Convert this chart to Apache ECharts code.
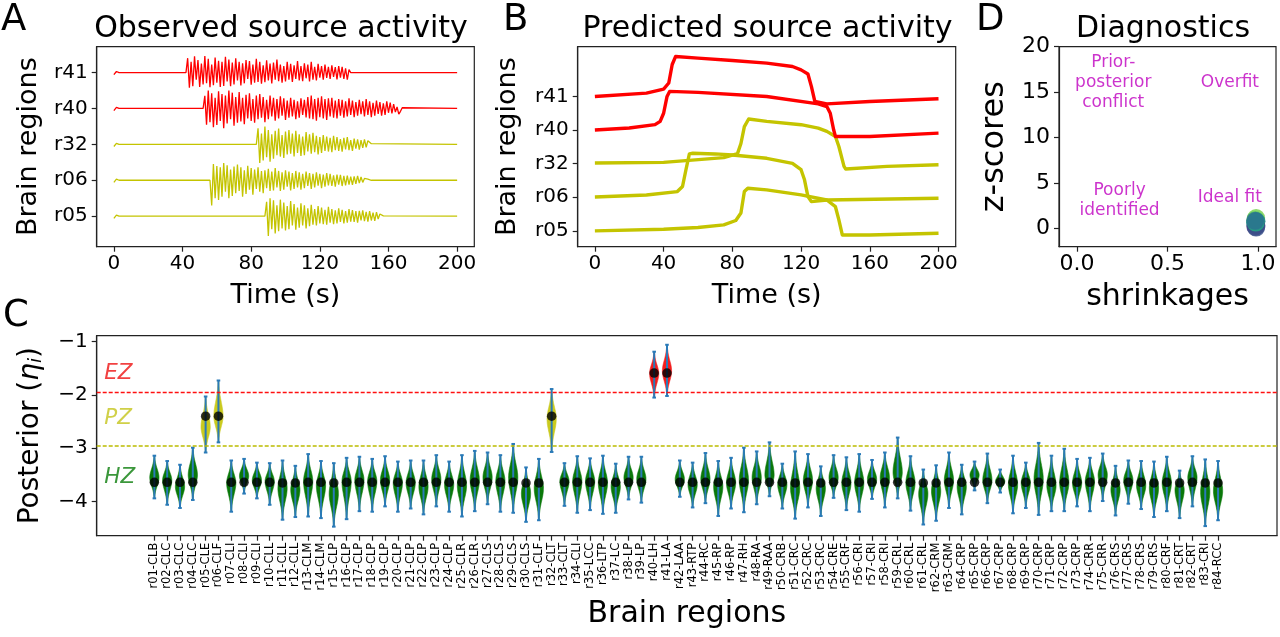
<!DOCTYPE html>
<html><head><meta charset="utf-8">
<script src="https://cdn.jsdelivr.net/npm/echarts@6/dist/echarts.min.js"></script>
<style>html,body{margin:0;padding:0;background:#fff}#c{width:1280px;height:637px}</style>
</head><body><div id="c"></div>
<script>
// ---------------- DATA ----------------
// Panels A & B: traces stacked by offset 1..5
const traceNames = ['r05', 'r06', 'r32', 'r40', 'r41'];
const traceZone = ['PZ', 'PZ', 'PZ', 'EZ', 'EZ'];
const timeTicks = [0, 40, 80, 120, 160, 200];
const onsetT = [0, 1.5, 3];
const onsetV = [-0.06, 0.03, 0];
// observed bursts (deviation from baseline, 1 s steps)
const burstStart = [89, 57, 84, 53, 43];
const obs_r05 = [0.40,-0.55,0.50,-0.36,0.44,-0.48,0.30,-0.42,0.46,-0.34,0.38,-0.40,0.28,-0.36,0.42,-0.26,0.34,-0.38,0.24,-0.32,0.36,-0.26,0.30,-0.34,0.22,-0.28,0.32,-0.24,0.20,-0.26,0.28,-0.20,0.24,-0.22,0.18,-0.24,0.26,-0.18,0.20,-0.22,0.16,-0.20,0.22,-0.16,0.18,-0.20,0.14,-0.18,0.20,-0.15,0.17,-0.16,0.14,-0.18,0.15,-0.12,0.16,-0.14,0.12,-0.15,0.14,-0.12,0.10,-0.13,0.11,-0.08,0.06,0.03,0.01];
const obs_r06 = [-0.70,0.45,-0.50,0.40,-0.55,0.36,-0.46,0.48,-0.32,0.42,-0.50,0.30,-0.44,0.38,-0.36,0.44,-0.30,0.36,-0.46,0.28,-0.38,0.40,-0.26,0.34,-0.40,0.30,-0.24,0.36,-0.32,0.26,-0.36,0.28,-0.22,0.32,-0.30,0.24,-0.28,0.34,-0.20,0.26,-0.30,0.22,-0.26,0.28,-0.18,0.24,-0.28,0.20,-0.24,0.26,-0.20,0.22,-0.26,0.18,-0.22,0.24,-0.16,0.20,-0.24,0.18,-0.20,0.22,-0.15,0.18,-0.22,0.16,-0.18,0.20,-0.14,0.18,-0.16,0.14,-0.18,0.16,-0.12,0.15,-0.16,0.12,-0.14,0.13,-0.12,0.10,-0.13,0.11,-0.10,0.12,-0.08,0.09,-0.06,0.05,0.04,0.03,0.01];
const obs_r32 = [0.45,-0.52,0.30,-0.45,0.50,-0.36,0.40,-0.48,0.28,-0.40,0.38,-0.30,0.44,-0.34,0.26,-0.38,0.36,-0.28,0.40,-0.26,0.30,-0.34,0.38,-0.24,0.28,-0.32,0.22,-0.30,0.34,-0.20,0.28,-0.26,0.32,-0.22,0.24,-0.28,0.20,-0.24,0.26,-0.18,0.22,-0.20,0.18,-0.22,0.24,-0.16,0.20,-0.18,0.15,-0.20,0.18,-0.14,0.20,-0.16,0.12,-0.18,0.16,-0.12,0.14,-0.15,0.12,-0.10,0.14,-0.08,0.10,0.06,0.02];
const obs_r40 = [0.35,-0.45,0.50,-0.38,0.42,-0.52,0.30,-0.46,0.48,-0.35,0.40,-0.55,0.36,-0.42,0.50,-0.30,0.44,-0.48,0.32,-0.40,0.46,-0.36,0.30,-0.44,0.38,-0.28,0.42,-0.35,0.26,-0.40,0.36,-0.30,0.40,-0.26,0.32,-0.38,0.24,-0.30,0.36,-0.22,0.30,-0.34,0.26,-0.28,0.34,-0.20,0.28,-0.32,0.22,-0.26,0.30,-0.22,0.24,-0.30,0.20,-0.26,0.28,-0.18,0.24,-0.25,0.32,-0.28,0.36,-0.30,0.26,-0.34,0.30,-0.24,0.34,-0.28,0.26,-0.32,0.28,-0.22,0.30,-0.26,0.22,-0.28,0.26,-0.20,0.24,-0.26,0.20,-0.22,0.28,-0.18,0.22,-0.24,0.18,-0.20,0.24,-0.16,0.20,-0.22,0.26,-0.18,0.20,-0.24,0.16,-0.20,0.22,-0.15,0.18,-0.20,0.14,-0.18,0.20,-0.12,0.16,-0.14,0.12,-0.10,0.04,-0.16,-0.08,0.02];
const obs_r41 = [0.40,-0.42,0.30,-0.38,0.45,-0.20,0.35,-0.40,0.25,-0.33,0.46,-0.30,0.38,-0.41,0.22,-0.35,0.42,-0.28,0.33,-0.40,0.30,-0.37,0.44,-0.25,0.36,-0.38,0.28,-0.33,0.40,-0.22,0.30,-0.36,0.26,-0.30,0.35,-0.18,0.32,-0.34,0.22,-0.28,0.38,-0.26,0.30,-0.31,0.20,-0.27,0.34,-0.22,0.25,-0.30,0.28,-0.20,0.36,-0.24,0.22,-0.28,0.18,-0.25,0.30,-0.20,0.24,-0.26,0.20,-0.18,0.32,-0.22,0.18,-0.24,0.26,-0.16,0.22,-0.25,0.30,-0.20,0.16,-0.22,0.24,-0.14,0.18,-0.20,0.22,-0.15,0.16,-0.18,0.20,-0.12,0.15,-0.19,0.18,-0.14,0.16,-0.18,0.12,-0.20,0.08];
const observed = [obs_r05, obs_r06, obs_r32, obs_r40, obs_r41];
// predicted activity: key points (time, value on stacked axis)
const predT_r05 = [0,40,60,75,82,85,87,89,100,120,135,140,142,144,160,200];
const predV_r05 = [1.0,1.05,1.10,1.18,1.31,1.53,2.17,2.27,2.22,2.07,1.92,1.72,1.33,0.88,0.88,0.93];
const predT_r06 = [0,30,48,51,53,55,57,70,80,100,115,120,122,124,126,135,200];
const predV_r06 = [2.01,2.07,2.17,2.32,2.82,3.29,3.31,3.29,3.26,3.16,3.01,2.82,2.52,2.02,1.87,1.92,1.97];
const predT_r32 = [0,40,75,83,85,87,89.5,100,120,130,135,140,142,145,146,170,200];
const predV_r32 = [3.02,3.04,3.18,3.30,3.60,4.10,4.33,4.26,4.16,4.06,3.96,3.81,3.51,2.92,2.84,2.92,2.97];
const predT_r40 = [0,20,35,38,40,42,43.5,60,100,130,135,137,139,140,160,200];
const predV_r40 = [4.0,4.06,4.16,4.26,4.50,5.0,5.15,5.12,5.0,4.78,4.70,4.50,4.0,3.81,3.81,3.91];
const predT_r41 = [0,30,40,43,45,47,60,80,100,115,120,124,126,128,135,160,200];
const predV_r41 = [5.0,5.10,5.22,5.40,5.95,6.19,6.14,6.07,5.99,5.89,5.79,5.67,5.30,4.85,4.78,4.85,4.93];
const predT = [predT_r05, predT_r06, predT_r32, predT_r40, predT_r41];
const predV = [predV_r05, predV_r06, predV_r32, predV_r40, predV_r41];

// Panel C: posterior violins
const regions = ['r01-CLB','r02-CLC','r03-CLC','r04-CLC','r05-CLE','r06-CLF','r07-CLI','r08-CLI','r09-CLI','r10-CLL','r11-CLL','r12-CLL','r13-CLM','r14-CLM','r15-CLP','r16-CLP','r17-CLP','r18-CLP','r19-CLP','r20-CLP','r21-CLP','r22-CLP','r23-CLP','r24-CLP','r25-CLR','r26-CLR','r27-CLS','r28-CLS','r29-CLS','r30-CLS','r31-CLF','r32-CLT','r33-CLT','r34-CLI','r35-LCC','r36-LTP','r37-LC','r38-LP','r39-LP','r40-LH','r41-LA','r42-LAA','r43-RTP','r44-RC','r45-RP','r46-RP','r47-RH','r48-RA','r49-RAA','r50-CRB','r51-CRC','r52-CRC','r53-CRC','r54-CRE','r55-CRF','r56-CRI','r57-CRI','r58-CRI','r59-CRL','r60-CRL','r61-CRL','r62-CRM','r63-CRM','r64-CRP','r65-CRP','r66-CRP','r67-CRP','r68-CRP','r69-CRP','r70-CRP','r71-CRP','r72-CRP','r73-CRP','r74-CRR','r75-CRR','r76-CRS','r77-CRS','r78-CRS','r79-CRS','r80-CRF','r81-CRT','r82-CRT','r83-CRI','r84-RCC'];
const zone = ['HZ','HZ','HZ','HZ','PZ','PZ','HZ','HZ','HZ','HZ','HZ','HZ','HZ','HZ','HZ','HZ','HZ','HZ','HZ','HZ','HZ','HZ','HZ','HZ','HZ','HZ','HZ','HZ','HZ','HZ','HZ','PZ','HZ','HZ','HZ','HZ','HZ','HZ','HZ','EZ','EZ','HZ','HZ','HZ','HZ','HZ','HZ','HZ','HZ','HZ','HZ','HZ','HZ','HZ','HZ','HZ','HZ','HZ','HZ','HZ','HZ','HZ','HZ','HZ','HZ','HZ','HZ','HZ','HZ','HZ','HZ','HZ','HZ','HZ','HZ','HZ','HZ','HZ','HZ','HZ','HZ','HZ','HZ','HZ'];
const postMax = [-3.14,-3.24,-3.31,-2.99,-2.03,-1.73,-3.23,-3.20,-3.27,-3.28,-3.23,-3.33,-3.11,-3.24,-3.28,-3.18,-3.16,-3.20,-3.15,-3.25,-3.23,-3.23,-3.13,-3.25,-3.13,-3.05,-3.08,-3.13,-2.92,-3.36,-3.20,-1.89,-3.28,-3.15,-3.19,-3.14,-3.29,-3.16,-3.16,-1.19,-1.06,-3.23,-3.27,-3.09,-3.24,-3.18,-2.99,-3.06,-2.89,-3.29,-3.06,-3.11,-3.34,-3.13,-3.17,-3.11,-3.22,-3.08,-2.80,-3.15,-3.40,-3.32,-3.08,-3.31,-3.25,-3.10,-3.40,-3.14,-3.27,-2.90,-3.14,-3.01,-3.20,-3.18,-3.10,-3.33,-3.23,-3.24,-3.25,-3.16,-3.42,-3.15,-3.21,-3.24];
const postMin = [-3.94,-4.06,-4.12,-3.97,-3.08,-2.89,-4.19,-3.85,-3.94,-4.06,-4.34,-4.29,-4.28,-4.31,-4.47,-4.33,-4.18,-4.19,-4.09,-4.19,-4.13,-4.24,-4.09,-4.19,-4.28,-4.18,-4.05,-4.19,-4.21,-4.38,-4.35,-3.07,-4.08,-4.21,-4.16,-4.23,-4.21,-3.96,-4.02,-2.05,-2.02,-3.91,-4.11,-4.03,-4.27,-4.13,-4.20,-4.05,-3.90,-4.13,-4.32,-4.11,-4.27,-3.93,-4.16,-4.19,-3.95,-4.11,-3.94,-4.17,-4.43,-4.36,-4.12,-4.24,-3.79,-4.03,-3.83,-4.22,-4.12,-4.25,-4.18,-4.18,-4.09,-4.18,-3.99,-4.26,-4.04,-4.14,-4.29,-4.18,-4.31,-4.09,-4.46,-4.35];
const postMode = [-3.55,-3.60,-3.72,-3.50,-2.60,-2.40,-3.65,-3.52,-3.60,-3.62,-3.75,-3.78,-3.62,-3.70,-3.85,-3.62,-3.60,-3.62,-3.60,-3.65,-3.65,-3.72,-3.58,-3.68,-3.70,-3.60,-3.55,-3.62,-3.55,-3.85,-3.75,-2.45,-3.62,-3.62,-3.62,-3.65,-3.72,-3.55,-3.58,-1.60,-1.55,-3.58,-3.68,-3.58,-3.72,-3.65,-3.60,-3.55,-3.50,-3.68,-3.75,-3.60,-3.75,-3.55,-3.65,-3.65,-3.58,-3.55,-3.45,-3.65,-3.85,-3.80,-3.60,-3.72,-3.50,-3.60,-3.62,-3.68,-3.65,-3.58,-3.70,-3.65,-3.65,-3.62,-3.50,-3.78,-3.60,-3.70,-3.75,-3.65,-3.78,-3.55,-3.82,-3.80];
const trueEta = [-3.64,-3.64,-3.64,-3.64,-2.40,-2.40,-3.64,-3.64,-3.64,-3.64,-3.65,-3.65,-3.64,-3.64,-3.65,-3.64,-3.64,-3.64,-3.64,-3.64,-3.64,-3.64,-3.64,-3.64,-3.64,-3.64,-3.64,-3.64,-3.64,-3.65,-3.65,-2.40,-3.64,-3.64,-3.64,-3.64,-3.64,-3.64,-3.64,-1.59,-1.59,-3.64,-3.64,-3.64,-3.64,-3.64,-3.64,-3.64,-3.64,-3.64,-3.65,-3.64,-3.65,-3.64,-3.64,-3.64,-3.64,-3.64,-3.64,-3.64,-3.65,-3.65,-3.64,-3.64,-3.64,-3.64,-3.64,-3.64,-3.64,-3.64,-3.64,-3.64,-3.64,-3.64,-3.64,-3.65,-3.64,-3.64,-3.65,-3.64,-3.65,-3.64,-3.65,-3.65];
const ezThreshold = -1.95;
const pzThreshold = -2.95;
const etaTicks = [-4, -3, -2, -1];
const zoneLabels = [['EZ', -1.60], ['PZ', -2.45], ['HZ', -3.55]];

// Panel D: diagnostics
const shrink = [0.990, 0.985, 0.992, 0.988, 0.985, 0.990, 0.987, 0.992, 0.986, 0.990, 0.988, 0.985];
const zscore = [1.15, 0.95, 0.80, 0.70, 0.60, 0.50, 0.40, 0.30, 0.20, 0.10, 0.65, 0.85];
const shrinkTicks = [0, 0.5, 1.0];
const zTicks = [0, 5, 10, 15, 20];
const diagNotes = [['Prior-\nposterior\nconflict', 0.20, 16.1], ['Overfit', 0.845, 16.1], ['Poorly\nidentified', 0.235, 3.1], ['Ideal fit', 0.845, 3.45]];

// ---------------- STYLE ----------------
const FONT = 'DejaVu Sans';
const zoneColor = { EZ: '#ff0000', PZ: '#c4c400', HZ: '#0a7d0a' };
const zoneFill = { EZ: '#f21c1c', PZ: '#caca1e', HZ: '#0a780a' };
const zoneText = { EZ: '#ee1111', PZ: '#c4c41a', HZ: '#0a7d0a' };
const viridis = ['#7ad151', '#5ec962', '#21918c', '#2a788e', '#1f9e89', '#31688e', '#39568c', '#443983', '#46327e', '#3b528b', '#22a884', '#2c728e'];

function baseAxis(extra) {
  return Object.assign({
    axisLine: { show: true, onZero: false, lineStyle: { color: '#222', width: 1.2 } },
    axisTick: { show: true, length: 5, lineStyle: { color: '#222', width: 1.2 } },
    axisLabel: { color: '#000', fontFamily: FONT, fontSize: 20 },
    splitLine: { show: false },
    nameTextStyle: { color: '#000', fontFamily: FONT, fontSize: 27 },
    nameLocation: 'middle'
  }, extra);
}
function custom(vals, fmt, extraLabel) {
  return {
    axisTick: { show: true, length: 5, customValues: vals, lineStyle: { color: '#222', width: 1.2 } },
    axisLabel: Object.assign({ color: '#000', fontFamily: FONT, fontSize: 20, customValues: vals, formatter: fmt }, extraLabel || {})
  };
}
const minus = v => (v < 0 ? '\u2212' + Math.abs(v) : String(v));

const grids = [
  { left: 96.7, top: 46.7, width: 377.6, height: 200 },
  { left: 577.7, top: 46.7, width: 378, height: 200 },
  { left: 96.7, top: 335.7, width: 1180.3, height: 200 },
  { left: 1059, top: 46.7, width: 217, height: 200 }
].map(g => Object.assign({ show: true, borderColor: '#222', borderWidth: 1.2, backgroundColor: 'transparent' }, g));

const traceIdx = [1, 2, 3, 4, 5];
const xAxes = [
  baseAxis(Object.assign({ gridIndex: 0, type: 'value', min: -10, max: 210, name: 'Time (s)', nameGap: 36 }, custom(timeTicks, v => String(v), { margin: 7 }))),
  baseAxis(Object.assign({ gridIndex: 1, type: 'value', min: -10, max: 210, name: 'Time (s)', nameGap: 36 }, custom(timeTicks, v => String(v), { margin: 7 }))),
  baseAxis(Object.assign({ gridIndex: 2, type: 'value', min: -3.5, max: 88.6, name: 'Brain regions', nameGap: 64, nameTextStyle: { color: '#000', fontFamily: FONT, fontSize: 30 } },
    custom(regions.map((r, i) => i + 1), v => regions[Math.round(v) - 1] || '', { rotate: 90, fontSize: 11.5, margin: 7 }))),
  baseAxis(Object.assign({ gridIndex: 3, type: 'value', min: -0.1, max: 1.1, name: 'shrinkages', nameGap: 36, nameTextStyle: { color: '#000', fontFamily: FONT, fontSize: 30 } }, custom(shrinkTicks, v => v.toFixed(1), { margin: 7, fontSize: 22 })))
];
const yAxes = [
  baseAxis(Object.assign({ gridIndex: 0, type: 'value', min: 0.15, max: 5.72, name: 'Brain regions', nameGap: 54, nameRotate: 90 }, custom(traceIdx, v => traceNames[v - 1], { margin: 9 }))),
  baseAxis(Object.assign({ gridIndex: 1, type: 'value', min: 0.53, max: 6.48, name: 'Brain regions', nameGap: 56, nameRotate: 90 }, custom(traceIdx, v => traceNames[v - 1], { margin: 9 }))),
  baseAxis(Object.assign({ gridIndex: 2, type: 'value', min: -4.64, max: -0.89, nameGap: 51, nameRotate: 90,
    name: '{a|Posterior (}{b|\u03b7}{c|i}{a|)}',
    nameTextStyle: { color: '#000', fontFamily: FONT, fontSize: 28, rich: {
      a: { fontFamily: FONT, fontSize: 28, color: '#000' },
      b: { fontFamily: FONT, fontSize: 28, fontStyle: 'italic', color: '#000' },
      c: { fontFamily: FONT, fontSize: 18, fontStyle: 'italic', color: '#000', padding: [12, 0, 0, 0] } } } },
    custom(etaTicks, minus, { margin: 9, fontSize: 20 }))),
  baseAxis(Object.assign({ gridIndex: 3, type: 'value', min: -2, max: 20, name: 'z-scores', nameGap: 48, nameRotate: 90, nameTextStyle: { color: '#000', fontFamily: FONT, fontSize: 32 } }, custom(zTicks, v => String(v), { margin: 9, fontSize: 22 })))
];

const series = [];
// Panel A
traceNames.forEach((nm, k) => {
  const off = k + 1, b = observed[k], s = burstStart[k];
  const pts = onsetT.map((t, i) => [t, off + onsetV[i]]);
  pts.push([s - 1, off]);
  b.forEach((v, i) => pts.push([s + i, off + v]));
  pts.push([s + b.length, off]);
  pts.push([200, off]);
  series.push({ type: 'line', xAxisIndex: 0, yAxisIndex: 0, data: pts, showSymbol: false, symbol: 'none', animation: false,
    lineStyle: { color: zoneColor[traceZone[k]], width: 1.3 }, z: 2 });
});
// Panel B
traceNames.forEach((nm, k) => {
  const pts = predT[k].map((t, i) => [t, predV[k][i]]);
  series.push({ type: 'line', xAxisIndex: 1, yAxisIndex: 1, data: pts, showSymbol: false, symbol: 'none', animation: false,
    lineStyle: { color: zoneColor[traceZone[k]], width: 3.4, join: 'round' }, z: 2 });
});
// Panel C violins
const prof = u => { const k = 3.2; return Math.max(0, (Math.exp(-k * u * u) - Math.exp(-k)) / (1 - Math.exp(-k))); };
series.push({
  type: 'custom', xAxisIndex: 2, yAxisIndex: 2, animation: false, z: 3,
  data: regions.map((r, i) => [i + 1, postMax[i], postMin[i], postMode[i], i]),
  renderItem: function (params, api) {
    const x = api.value(0), top = api.value(1), bot = api.value(2), mode = api.value(3), idx = api.value(4);
    const hw = api.size([0.36, 0])[0];
    const cw = api.size([0.14, 0])[0];
    const N = 48, right = [], left = [];
    for (let j = 0; j <= N; j++) {
      const y = bot + (top - bot) * j / N;
      const u = y < mode ? (mode - y) / (mode - bot) : (y - mode) / (top - mode);
      const w = hw * (0.06 + 0.94 * prof(Math.min(1, u)));
      const p = api.coord([x, y]);
      right.push([p[0] + w, p[1]]);
      left.push([p[0] - w, p[1]]);
    }
    const poly = right.concat(left.reverse());
    const pt = api.coord([x, top]), pb = api.coord([x, bot]);
    const z = zone[idx];
    const blue = '#2a7ab8';
    return {
      type: 'group', children: [
        { type: 'polygon', shape: { points: poly }, style: { fill: zoneFill[z], stroke: zoneFill[z], lineWidth: 0.6 } },
        { type: 'line', shape: { x1: pt[0], y1: pt[1], x2: pb[0], y2: pb[1] }, style: { stroke: blue, lineWidth: 2 } },
        { type: 'line', shape: { x1: pt[0] - cw, y1: pt[1], x2: pt[0] + cw, y2: pt[1] }, style: { stroke: blue, lineWidth: 2 } },
        { type: 'line', shape: { x1: pb[0] - cw, y1: pb[1], x2: pb[0] + cw, y2: pb[1] }, style: { stroke: blue, lineWidth: 2 } }
      ]
    };
  }
});
series.push({
  type: 'scatter', xAxisIndex: 2, yAxisIndex: 2, animation: false, z: 5, symbolSize: 9.5,
  itemStyle: { color: '#000' },
  data: regions.map((r, i) => [i + 1, trueEta[i]]),
  markLine: {
    silent: true, symbol: 'none', animation: false, label: { show: false },
    data: [
      { yAxis: ezThreshold, lineStyle: { color: '#ff1010', type: [4, 2], width: 1.3, opacity: 1 } },
      { yAxis: pzThreshold, lineStyle: { color: '#bcbc00', type: [4, 2], width: 1.6, opacity: 1 } }
    ]
  }
});
series.push({
  type: 'scatter', xAxisIndex: 2, yAxisIndex: 2, animation: false, z: 6, symbolSize: 1,
  itemStyle: { color: 'transparent' },
  data: zoneLabels.map(d => ({ value: [-2.95, d[1]], name: d[0],
    label: { show: true, position: 'right', distance: 0, formatter: d[0], color: zoneText[d[0]], fontFamily: FONT, fontSize: 21.5, fontStyle: 'italic' } }))
});
// Panel D
series.push({
  type: 'scatter', xAxisIndex: 3, yAxisIndex: 3, animation: false, z: 4, symbolSize: 18,
  data: shrink.map((s, i) => ({ value: [s, zscore[i]], itemStyle: { color: viridis[i], opacity: 0.85 } }))
});
series.push({
  type: 'scatter', xAxisIndex: 3, yAxisIndex: 3, animation: false, z: 6, symbolSize: 1,
  itemStyle: { color: 'transparent' },
  data: diagNotes.map(d => ({ value: [d[1], d[2]],
    label: { show: true, position: 'inside', formatter: d[0], color: '#bf00bf', fontFamily: FONT, fontSize: 17, lineHeight: 20, align: 'center', verticalAlign: 'middle' } }))
});

const txt = (x, y, text, size, align) => ({ type: 'text', x: x, y: y, style: { text: text, fill: '#000', font: size + 'px "' + FONT + '"', textAlign: align || 'center', textVerticalAlign: 'middle' } });
const option = {
  animation: false,
  backgroundColor: '#fff',
  grid: grids,
  xAxis: xAxes,
  yAxis: yAxes,
  series: series,
  graphic: [
    txt(281, 29, 'Observed source activity', 30),
    txt(767.5, 29, 'Predicted source activity', 30),
    txt(1163, 29, 'Diagnostics', 30),
    txt(1, 20, 'A', 37, 'left'),
    txt(503, 20, 'B', 37, 'left'),
    txt(976, 20, 'D', 37, 'left'),
    txt(3, 316, 'C', 37, 'left')
  ]
};
const chart = echarts.init(document.getElementById('c'), null, { renderer: 'canvas' });
chart.setOption(option);
</script></body></html>
